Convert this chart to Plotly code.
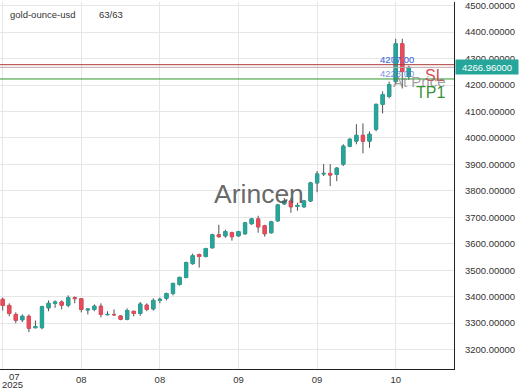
import plotly.graph_objects as go
import pandas as pd

# ---- data ----
dates = [d.strftime("%Y-%m-%d") for d in pd.bdate_range("2025-07-24", periods=63)]

opens = [3390, 3367, 3333, 3313, 3326, 3283, 3283, 3358, 3375, 3380,
         3368, 3396, 3392, 3350, 3352, 3364, 3332, 3333, 3327, 3315,
         3345, 3337, 3368, 3354, 3386, 3394, 3412, 3446, 3473, 3525,
         3559, 3552, 3585, 3634, 3630, 3642, 3630, 3638, 3676, 3694,
         3668, 3642, 3687, 3751, 3762, 3741, 3740, 3762, 3830, 3864,
         3866, 3862, 3901, 3969, 3988, 4010, 3988, 4033, 4127, 4157,
         4213, 4356, 4232]
highs = [3397, 3375, 3341, 3333, 3333, 3310, 3366, 3386, 3386, 3386,
         3405, 3401, 3394, 3356, 3371, 3375, 3345, 3352, 3330, 3356,
         3345, 3380, 3375, 3394, 3397, 3416, 3454, 3476, 3533, 3563,
         3563, 3585, 3638, 3672, 3653, 3646, 3649, 3683, 3698, 3706,
         3672, 3687, 3751, 3773, 3773, 3755, 3766, 3834, 3875, 3901,
         3901, 3890, 3976, 3999, 4052, 4055, 4025, 4130, 4176, 4213,
         4375, 4375, 4273]
lows = [3348, 3326, 3300, 3304, 3266, 3280, 3277, 3345, 3358, 3352,
        3360, 3375, 3341, 3333, 3345, 3322, 3330, 3328, 3311, 3311,
        3326, 3328, 3345, 3348, 3375, 3386, 3405, 3442, 3469, 3521,
        3510, 3548, 3582, 3623, 3623, 3612, 3627, 3634, 3672, 3642,
        3627, 3638, 3683, 3747, 3717, 3725, 3736, 3758, 3795, 3856,
        3818, 3837, 3894, 3965, 3976, 3942, 3963, 4025, 4093, 4150,
        4202, 4187, 4220]
closes = [3367, 3337, 3311, 3326, 3281, 3287, 3362, 3375, 3380, 3368,
          3396, 3393, 3352, 3353, 3364, 3333, 3333, 3332, 3315, 3348,
          3337, 3372, 3352, 3386, 3390, 3412, 3450, 3473, 3529, 3555,
          3552, 3582, 3634, 3627, 3646, 3627, 3646, 3679, 3694, 3664,
          3638, 3683, 3747, 3762, 3740, 3745, 3762, 3830, 3864, 3866,
          3860, 3886, 3969, 3995, 4010, 3988, 4014, 4127, 4164, 4202,
          4356, 4251, 4266.96]

last_price = 4266.96
sl_level = 4277
tp1_level = 4223
line_labels = ["4277.00", "4267.00", "4223.00"]
tick_months = [d[5:7] for d in dates[0::12]]

GREEN = "#26a69a"
RED = "#eb4a5a"
WICK = "#505050"
FONT = "Liberation Sans, Arial, sans-serif"

body_hi = [max(o, c) for o, c in zip(opens, closes)]
body_lo = [min(o, c) for o, c in zip(opens, closes)]

fig = go.Figure()
# wicks
fig.add_trace(go.Candlestick(
    x=dates, open=opens, high=highs, low=lows, close=closes,
    increasing=dict(line=dict(color=WICK, width=1), fillcolor=WICK),
    decreasing=dict(line=dict(color=WICK, width=1), fillcolor=WICK),
    hoverinfo="skip", showlegend=False))
# bodies
fig.add_trace(go.Candlestick(
    x=dates, open=opens, high=body_hi, low=body_lo, close=closes,
    increasing=dict(line=dict(color=GREEN, width=1), fillcolor=GREEN),
    decreasing=dict(line=dict(color=RED, width=1), fillcolor=RED),
    hoverinfo="skip", showlegend=False))

# horizontal level lines
fig.add_hline(y=sl_level, line=dict(color="#b03a3a", width=1))
fig.add_hline(y=last_price, line=dict(color="#c0a8a8", width=1))
fig.add_hline(y=tp1_level, line=dict(color="#2f9a2f", width=1))

ann = []
# header
ann.append(dict(text="gold-ounce-usd", xref="paper", yref="paper", x=8/454, y=(369-13)/369,
                xanchor="left", yanchor="middle", showarrow=False,
                font=dict(family=FONT, size=9.5, color="#333333")))
ann.append(dict(text="63/63", xref="paper", yref="paper", x=97/454, y=(369-13)/369,
                xanchor="left", yanchor="middle", showarrow=False,
                font=dict(family=FONT, size=9.5, color="#333333")))
# watermark
ann.append(dict(text="Arincen", xref="paper", yref="paper", x=259/454, y=(369-193)/369,
                xanchor="center", yanchor="middle", showarrow=False,
                font=dict(family=FONT, size=26.5, color="rgba(85,85,85,0.9)")))
# first x label (kept inside the plot edge)
ann.append(dict(text="07", xref="paper", yref="paper", x=14/454, y=(369-377)/369,
                xanchor="center", yanchor="middle", showarrow=False,
                font=dict(family=FONT, size=9.5, color="#333333")))
ann.append(dict(text="2025", xref="paper", yref="paper", x=12.5/454, y=(369-385)/369,
                xanchor="center", yanchor="middle", showarrow=False,
                font=dict(family=FONT, size=9.5, color="#333333")))
# blue level labels
BLUE = "rgba(80,115,215,0.8)"
for txt, lvl, ys in [(line_labels[0], sl_level, 5), (line_labels[1], sl_level, 5),
                     (line_labels[2], tp1_level, 5)]:
    ann.append(dict(text=txt, x=dates[60], y=lvl, xshift=1.5, yshift=ys, showarrow=False,
                    xanchor="center", yanchor="middle",
                    font=dict(family=FONT, size=9.5, color=BLUE)))
# right side texts
ann.append(dict(text="SL", xref="paper", x=447/454, y=sl_level, yshift=-11, showarrow=False,
                xanchor="right", yanchor="middle",
                font=dict(family=FONT, size=16, color="rgba(215,50,60,0.9)")))
ann.append(dict(text="At Price", xref="paper", x=448/454, y=last_price, yshift=-14, showarrow=False,
                xanchor="right", yanchor="middle",
                font=dict(family=FONT, size=15, color="rgba(130,130,130,0.75)")))
ann.append(dict(text="TP1", xref="paper", x=447/454, y=tp1_level, yshift=-13.5, showarrow=False,
                xanchor="right", yanchor="middle",
                font=dict(family=FONT, size=16, color="rgba(40,140,40,0.95)")))
# last price tag
ann.append(dict(text="4266.96000", xref="paper", x=1.0, y=last_price, showarrow=False,
                xanchor="left", yanchor="middle", xshift=1, bgcolor=GREEN,
                width=60, height=12, borderpad=1,
                font=dict(family=FONT, size=9.5, color="#ffffff")))

fig.update_layout(
    width=520, height=390,
    margin=dict(l=0, r=66, t=0, b=21),
    paper_bgcolor="white", plot_bgcolor="white",
    annotations=ann,
    font=dict(family=FONT, size=9.5, color="#333333"),
)
fig.update_xaxes(
    type="category", range=[-0.41, 68.9],
    tickvals=dates[0::12], ticktext=[""] + tick_months[1:],
    showgrid=True, gridcolor="#e6e6e6", gridwidth=1,
    showline=True, linecolor="#222222", linewidth=1,
    ticks="", ticklabelstandoff=2,
    rangeslider=dict(visible=False),
    tickfont=dict(family=FONT, size=9.5, color="#333333"),
)
fig.update_yaxes(
    side="right", range=[3126.8, 4513.9], dtick=100, tick0=0,
    tickformat=".5f", ticklabeloverflow="allow",
    showgrid=True, gridcolor="#e6e6e6", gridwidth=1,
    showline=True, linecolor="#222222", linewidth=1,
    ticks="", ticklabelstandoff=8, zeroline=False,
    tickfont=dict(family=FONT, size=9.5, color="#333333"),
)

fig.write_html("out.html")
